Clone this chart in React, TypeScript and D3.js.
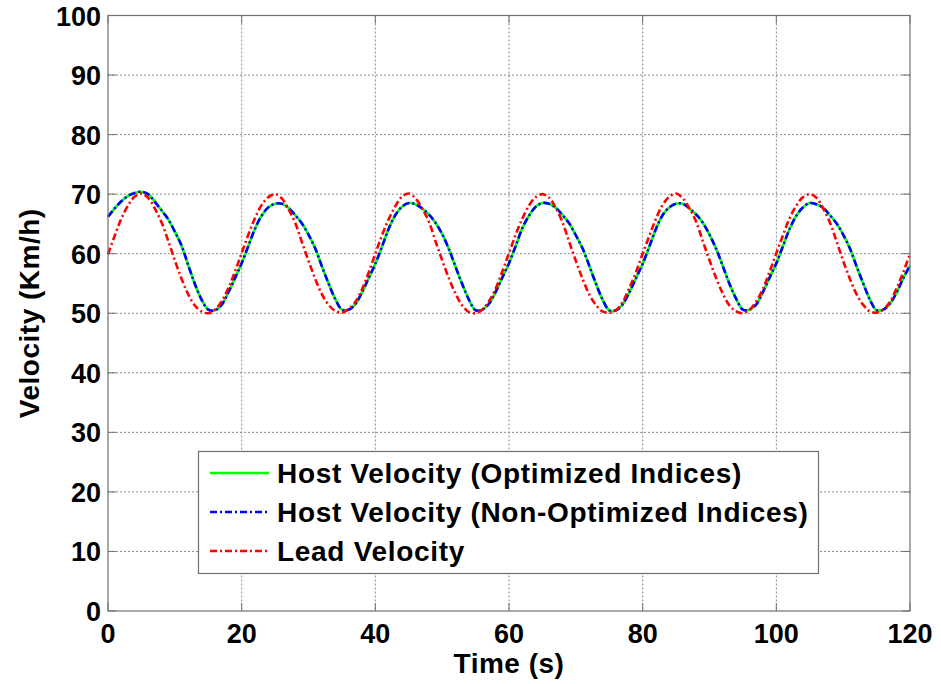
import React from "react";
import * as d3 from "d3";

// ---- data (1 s sampling) ----
const timeStepS = 1;
const leadVelocity = [
  59.9, 63.0, 65.9, 68.1, 69.6, 70.1, 69.4, 67.6, 65.3, 62.2, 58.9, 55.8, 53.2, 51.3, 50.3, 50.0, 50.6, 52.0, 54.2, 57.0,
  60.1, 63.2, 66.0, 68.2, 69.5, 70.0, 69.3, 67.5, 65.2, 62.0, 58.8, 55.8, 53.2, 51.4, 50.4, 50.1, 50.7, 51.9, 54.0, 56.8,
  60.0, 63.1, 65.8, 68.0, 69.6, 70.1, 69.3, 67.6, 65.4, 62.1, 58.9, 55.9, 53.3, 51.3, 50.2, 50.0, 50.6, 52.0, 54.1, 57.0,
  60.1, 63.2, 65.9, 68.1, 69.5, 70.0, 69.4, 67.7, 65.3, 62.0, 58.8, 55.8, 53.2, 51.4, 50.3, 50.1, 50.5, 51.9, 54.2, 56.9,
  60.0, 63.0, 65.9, 68.2, 69.6, 70.1, 69.3, 67.6, 65.4, 62.1, 58.9, 55.9, 53.3, 51.3, 50.3, 50.0, 50.6, 52.0, 54.1, 57.0,
  60.1, 63.1, 66.0, 68.1, 69.5, 70.0, 69.4, 67.6, 65.3, 62.1, 58.8, 55.8, 53.2, 51.4, 50.3, 50.1, 50.6, 51.9, 54.2, 56.9,
  60.0,
];
const hostNonOptimized = [
  66.2, 67.6, 68.8, 69.7, 70.2, 70.4, 70.0, 68.7, 67.3, 65.8, 63.7, 61.4, 58.1, 54.9, 52.3, 50.6, 50.5, 51.4, 53.5, 55.9,
  58.4, 61.3, 64.2, 66.4, 67.8, 68.4, 68.4, 67.7, 66.5, 65.1, 63.2, 60.9, 57.9, 55.0, 52.4, 50.6, 50.6, 51.5, 53.5, 55.9,
  58.3, 61.2, 64.2, 66.5, 67.9, 68.5, 68.3, 67.6, 66.6, 65.2, 63.3, 60.8, 57.8, 54.9, 52.3, 50.5, 50.6, 51.6, 53.6, 56.0,
  58.4, 61.3, 64.3, 66.4, 67.9, 68.5, 68.4, 67.7, 66.5, 65.1, 63.1, 60.9, 58.0, 55.0, 52.3, 50.5, 50.5, 51.5, 53.5, 55.9,
  58.3, 61.2, 64.2, 66.5, 67.8, 68.4, 68.4, 67.6, 66.6, 65.2, 63.2, 60.8, 57.9, 54.9, 52.4, 50.6, 50.6, 51.5, 53.6, 56.0,
  58.4, 61.3, 64.2, 66.4, 67.8, 68.5, 68.3, 67.7, 66.5, 65.1, 63.2, 60.9, 57.9, 55.0, 52.3, 50.5, 50.6, 51.6, 53.5, 55.9,
  58.0,
];
const hostOptimized = [
  66.2, 67.6, 68.8, 69.7, 70.2, 70.4, 70.0, 68.8, 67.3, 65.8, 63.7, 61.3, 58.1, 54.9, 52.3, 50.6, 50.5, 51.4, 53.5, 55.9,
  58.4, 61.3, 64.2, 66.4, 67.8, 68.4, 68.4, 67.7, 66.5, 65.1, 63.2, 60.9, 57.9, 55.0, 52.4, 50.6, 50.6, 51.5, 53.5, 55.9,
  58.3, 61.2, 64.2, 66.5, 67.9, 68.5, 68.3, 67.6, 66.6, 65.2, 63.3, 60.8, 57.8, 54.9, 52.3, 50.5, 50.6, 51.6, 53.6, 56.0,
  58.4, 61.3, 64.3, 66.4, 67.9, 68.5, 68.4, 67.7, 66.5, 65.1, 63.1, 60.9, 58.0, 55.0, 52.3, 50.5, 50.5, 51.5, 53.5, 55.9,
  58.3, 61.2, 64.2, 66.5, 67.8, 68.4, 68.4, 67.6, 66.6, 65.2, 63.2, 60.8, 57.9, 54.9, 52.4, 50.6, 50.6, 51.5, 53.6, 56.0,
  58.4, 61.3, 64.2, 66.4, 67.8, 68.5, 68.3, 67.7, 66.5, 65.1, 63.2, 60.9, 57.9, 55.0, 52.3, 50.5, 50.6, 51.6, 53.5, 55.9,
  58.0,
];
const xTicks = [0, 20, 40, 60, 80, 100, 120];
const yTicks = [0, 10, 20, 30, 40, 50, 60, 70, 80, 90, 100];
const legendLabels = [
  "Host Velocity (Optimized Indices)",
  "Host Velocity (Non-Optimized Indices)",
  "Lead Velocity",
];

const W = 941;
const H = 684;
const FONT = "'Liberation Sans', Arial, Helvetica, sans-serif";

export default function App() {
  const left = 108, right = 910, top = 15.5, bottom = 611;
  const x = d3.scaleLinear().domain([0, 120]).range([left, right]);
  const y = d3.scaleLinear().domain([0, 100]).range([bottom, top]);

  const toPts = (arr: number[]) => arr.map((v, i) => [i * timeStepS, v] as [number, number]);
  const line = d3
    .line<[number, number]>()
    .x((d) => x(d[0]))
    .y((d) => y(d[1]))
    .curve(d3.curveCatmullRom.alpha(0.5));

  const series = [
    { data: hostOptimized, color: "#00ff00", dash: undefined as string | undefined },
    { data: hostNonOptimized, color: "#0000ff", dash: "7,3,2,3" },
    { data: leadVelocity, color: "#ff0000", dash: "7,3,2,3" },
  ];

  const axisColor = "#707070";
  const gridColor = "#8a8a8a";
  const tickLen = 8;

  const lg = { x: 198.5, y: 451.5, w: 620, h: 122 };
  const lgRowY = [473, 512, 551];

  return (
    <svg
      width={W}
      height={H}
      style={{ position: "absolute", left: 0, top: 0, background: "#fff" }}
      fontFamily={FONT}
    >
      <rect x={0} y={0} width={W} height={H} fill="#fff" />
      {/* grid */}
      {xTicks.slice(1, -1).map((t) => (
        <line key={"gx" + t} x1={x(t)} x2={x(t)} y1={top} y2={bottom} stroke={gridColor} strokeWidth={1} strokeDasharray="2,2" />
      ))}
      {yTicks.slice(1, -1).map((t) => (
        <line key={"gy" + t} x1={left} x2={right} y1={y(t)} y2={y(t)} stroke={gridColor} strokeWidth={1} strokeDasharray="2,2" />
      ))}
      {/* ticks */}
      {xTicks.map((t) => (
        <g key={"tx" + t}>
          <line x1={x(t)} x2={x(t)} y1={bottom} y2={bottom - tickLen} stroke={axisColor} strokeWidth={1} />
          <line x1={x(t)} x2={x(t)} y1={top} y2={top + tickLen} stroke={axisColor} strokeWidth={1} />
          <text x={x(t)} y={643} textAnchor="middle" fontSize={27} fontWeight="bold" fill="#000">
            {t}
          </text>
        </g>
      ))}
      {yTicks.map((t) => (
        <g key={"ty" + t}>
          <line x1={left} x2={left + tickLen} y1={y(t)} y2={y(t)} stroke={axisColor} strokeWidth={1} />
          <line x1={right} x2={right - tickLen} y1={y(t)} y2={y(t)} stroke={axisColor} strokeWidth={1} />
          <text x={101} y={y(t) + 10} textAnchor="end" fontSize={27} fontWeight="bold" fill="#000">
            {t}
          </text>
        </g>
      ))}
      {/* series */}
      {series.map((s, i) => (
        <path
          key={"s" + i}
          d={line(toPts(s.data)) || ""}
          fill="none"
          stroke={s.color}
          strokeWidth={2.6}
          strokeDasharray={s.dash}
          strokeLinejoin="round"
        />
      ))}
      {/* axes box */}
      <rect x={left} y={top} width={right - left} height={bottom - top} fill="none" stroke={axisColor} strokeWidth={1.2} />
      {/* labels */}
      <text x={(left + right) / 2} y={673} textAnchor="middle" fontSize={28} fontWeight="bold" fill="#000" letterSpacing={0.5}>
        Time (s)
      </text>
      <text
        transform={`translate(39, ${(top + bottom) / 2}) rotate(-90)`}
        textAnchor="middle"
        fontSize={28}
        fontWeight="bold"
        fill="#000"
        letterSpacing={0.5}
      >
        Velocity (Km/h)
      </text>
      {/* legend */}
      <rect x={lg.x} y={lg.y} width={lg.w} height={lg.h} fill="#fff" stroke={axisColor} strokeWidth={1.2} />
      {series.map((s, i) => (
        <g key={"lg" + i}>
          <line x1={210} x2={269} y1={lgRowY[i]} y2={lgRowY[i]} stroke={s.color} strokeWidth={2.6} strokeDasharray={s.dash} />
          <text x={277} y={lgRowY[i] + 10} fontSize={28} fontWeight="bold" fill="#000" letterSpacing={0.7}>
            {legendLabels[i]}
          </text>
        </g>
      ))}
    </svg>
  );
}
